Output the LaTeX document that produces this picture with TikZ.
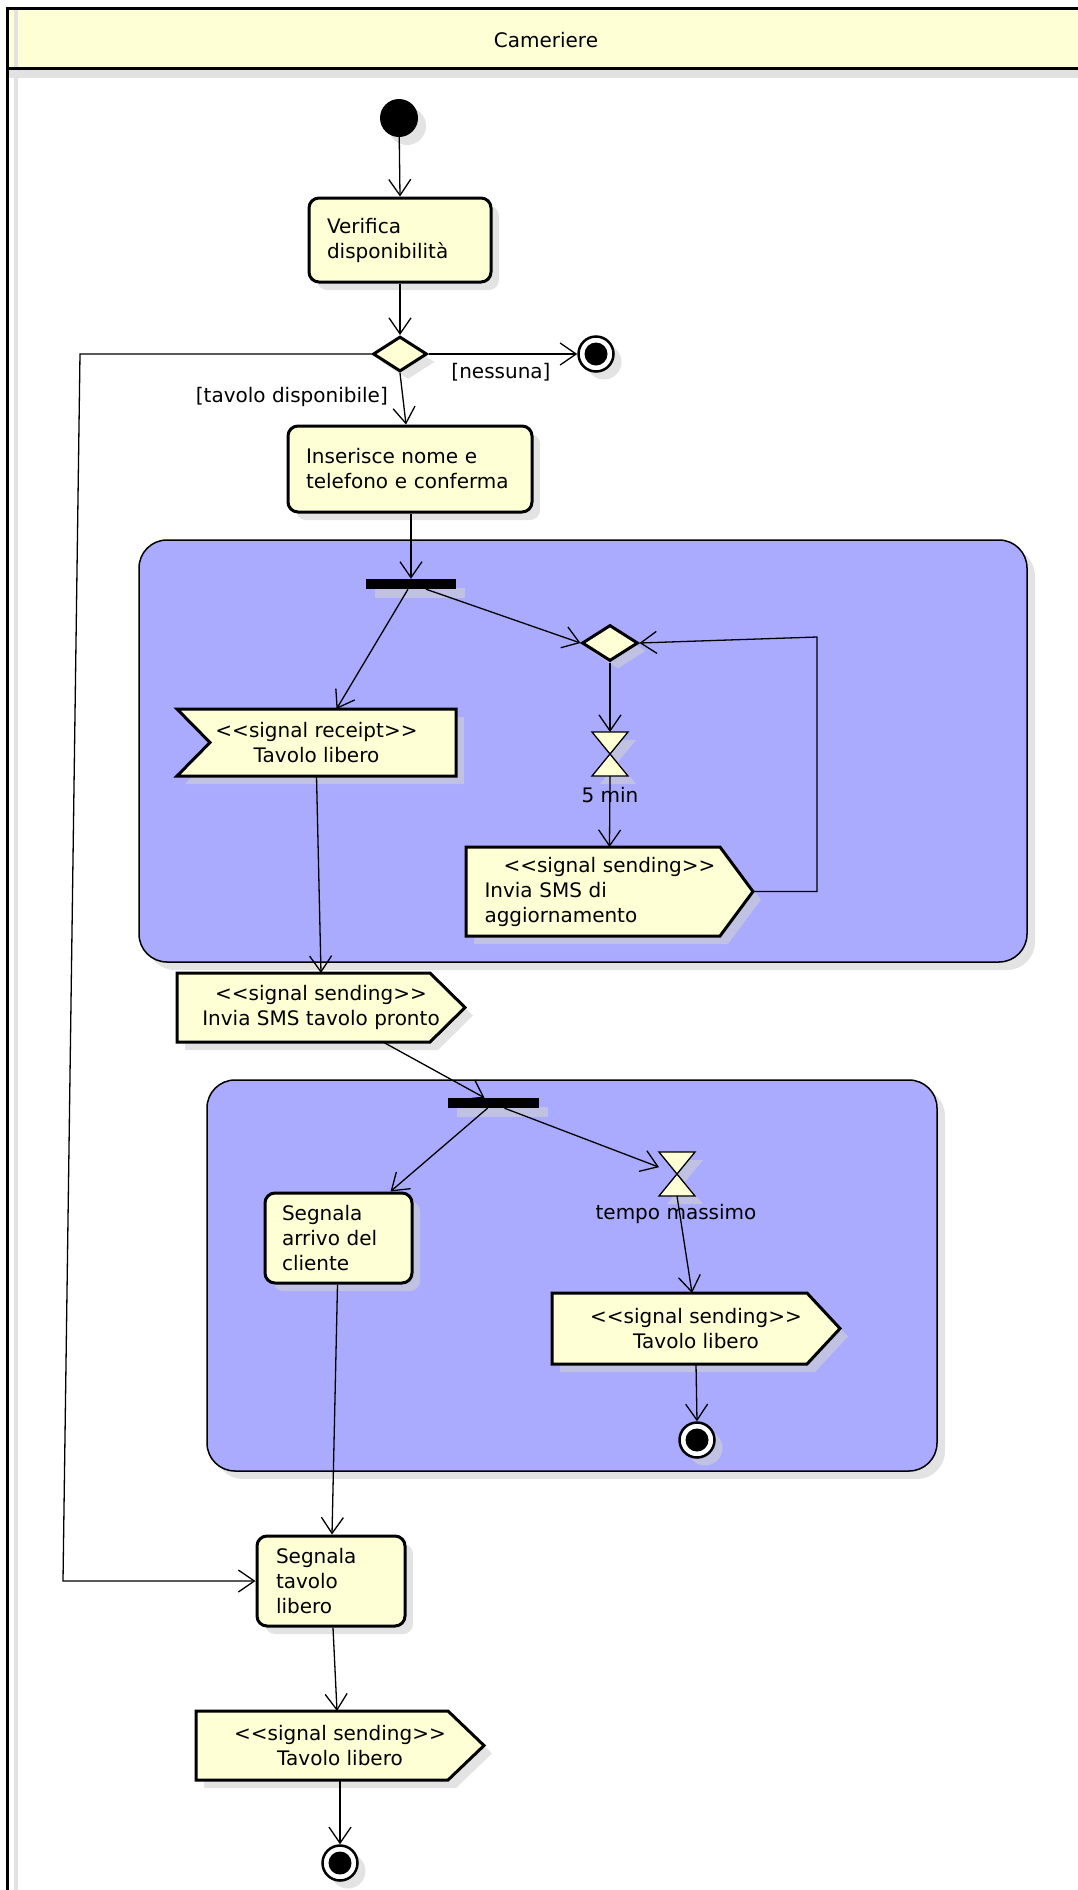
\documentclass[tikz,border=0pt]{standalone}
\usepackage{fontspec}
\newfontfamily\umlfont{DejaVu Sans}
\usetikzlibrary{arrows.meta,shapes.geometric,shadows}
\definecolor{umlyellow}{HTML}{FFFFD6}
\definecolor{umlblue}{HTML}{AAAAFF}
\definecolor{shadowgray}{rgb}{0.82,0.82,0.82}
\definecolor{laneshadow}{HTML}{E2E2E2}
\pgfdeclarelayer{back}
\pgfdeclarelayer{shad}
\pgfdeclarelayer{body}
\pgfsetlayers{back,shad,body,main}
\tikzset{
  txt/.style={font=\umlfont\fontsize{20}{25}\selectfont},
  shd/.style={fill=shadowgray,opacity=0.6},
  castshadow/.style={general shadow={shadow xshift=8pt,shadow yshift=-8pt,shd}},
  flow/.style={line width=1.3pt,-{Straight Barb[length=16pt,width=22pt]}},
  plainline/.style={line width=1.3pt},
  act/.style={txt,draw,fill=umlyellow,line width=3pt,rounded corners=10pt,align=left,inner ysep=0pt,castshadow},
  ghost/.style={txt,inner sep=0pt,outer sep=0pt},
  sigline/.style={draw,fill=umlyellow,line width=3pt,line join=miter},
  timerline/.style={draw,fill=umlyellow,line width=1.3pt},
  decision/.style={diamond,draw,fill=umlyellow,line width=3pt,inner sep=0pt,castshadow},
  forkbar/.style={rectangle,fill=black,inner sep=0pt,minimum width=90pt,minimum height=10pt,general shadow={shadow xshift=9pt,shadow yshift=-9pt,shd}},
  startnode/.style={circle,fill=black,inner sep=0pt,minimum size=38pt,castshadow},
  endnode/.style={circle,draw,line width=2.5pt,fill=white,inner sep=0pt,minimum size=35pt,castshadow,
    path picture={\fill[black] (path picture bounding box.center) circle (11.5pt);}},
  region/.style={draw,fill=umlblue,line width=1.5pt,rounded corners=28pt,inner sep=0pt,castshadow},
  guard/.style={txt,inner sep=0pt},
}
\newcommand\sendshape[2]{%
  \begin{pgfonlayer}{shad}
    \fill[shd,transform canvas={shift={(8pt,-8pt)}}] (#1.north west) -- ([xshift=-#2pt]#1.north east) -- (#1.east) -- ([xshift=-#2pt]#1.south east) -- (#1.south west) -- cycle;
  \end{pgfonlayer}
  \begin{pgfonlayer}{body}
    \path[sigline] (#1.north west) -- ([xshift=-#2pt]#1.north east) -- (#1.east) -- ([xshift=-#2pt]#1.south east) -- (#1.south west) -- cycle;
  \end{pgfonlayer}}
\newcommand\recvshape[2]{%
  \begin{pgfonlayer}{shad}
    \fill[shd,transform canvas={shift={(8pt,-8pt)}}] (#1.north west) -- (#1.north east) -- (#1.south east) -- (#1.south west) -- ([xshift=#2pt]#1.west) -- cycle;
  \end{pgfonlayer}
  \begin{pgfonlayer}{body}
    \path[sigline] (#1.north west) -- (#1.north east) -- (#1.south east) -- (#1.south west) -- ([xshift=#2pt]#1.west) -- cycle;
  \end{pgfonlayer}}
\newcommand\timershape[1]{%
  \begin{pgfonlayer}{shad}
    \fill[shd,transform canvas={shift={(8pt,-8pt)}}] (#1.north west) -- (#1.north east) -- (#1.south west) -- (#1.south east) -- cycle;
  \end{pgfonlayer}
  \begin{pgfonlayer}{body}
    \path[timerline] (#1.north west) -- (#1.north east) -- (#1.south west) -- (#1.south east) -- cycle;
  \end{pgfonlayer}}
\begin{document}
\begin{tikzpicture}[x=1pt,y=-1pt]
\useasboundingbox (0,0) rectangle (1078,1890);
% ---------- swimlane ----------
\begin{pgfonlayer}{back}
  \fill[laneshadow] (9,69) rectangle (1078,78);
  \fill[laneshadow] (14,69) rectangle (18,1890);
  \fill[umlyellow] (7,8) rectangle (1090,68);
  \fill[laneshadow] (14,10) rectangle (18,67);
  \draw[line width=3pt] (7,1895) -- (7,8) -- (1090,8);
  \draw[line width=3pt] (7,68) -- (1090,68);
  % regions
  \node[region,minimum width=888pt,minimum height=422pt] (reg1) at (583,751) {};
  \node[region,minimum width=730pt,minimum height=391pt] (reg2) at (572,1275.5) {};
\end{pgfonlayer}
\node[txt] (lane) at (546,40) {Cameriere};

% ---------- nodes ----------
\node[startnode] (init) at (399,118) {};
\node[act,inner xsep=18pt,text width=146pt,minimum height=84pt] (verifica) at (400,240) {Verifica\\disponibilità};
\node[decision,minimum width=54pt,minimum height=35pt] (d1) at (400,354) {};
\node[endnode] (fin1) at (596,354) {};
\node[act,inner xsep=18pt,text width=208pt,minimum height=86pt] (inserisce) at (410,469) {Inserisce nome e\\telefono e conferma};

\node[forkbar] (fork1) at (411,584) {};
\node[decision,minimum width=56pt,minimum height=36pt] (d2) at (610,643) {};
\node[ghost,minimum width=279pt,minimum height=67pt,align=center] (receipt) at (316.5,742.5) {<<signal receipt>>\\Tavolo libero};
\recvshape{receipt}{33}
\node[ghost,minimum width=36pt,minimum height=44pt] (timer1) at (610,754) {};
\timershape{timer1}
\node[ghost,minimum width=287pt,minimum height=89pt,text width=250pt,align=left] (send1) at (609.5,891.5) {\hspace*{19pt}<<signal sending>>\\Invia SMS di\\aggiornamento};
\sendshape{send1}{33}
\coordinate (lp1) at (817,891.5);
\coordinate (lp2) at (817,637);

\node[ghost,minimum width=288pt,minimum height=69pt,align=center] (send2) at (321,1007.5) {<<signal sending>>\\Invia SMS tavolo pronto};
\sendshape{send2}{35}

\node[forkbar,minimum width=91pt] (fork2) at (493.5,1103) {};
\node[act,inner xsep=17pt,text width=113pt,minimum height=90pt] (arrivo) at (338.5,1238) {Segnala\\arrivo del\\cliente};
\node[ghost,minimum width=36pt,minimum height=44pt] (timer2) at (677,1174) {};
\timershape{timer2}
\node[ghost,minimum width=288pt,minimum height=71pt,align=center] (send3) at (696,1328.5) {<<signal sending>>\\Tavolo libero};
\sendshape{send3}{33}
\node[endnode] (fin2) at (697,1440) {};

\node[act,inner xsep=19pt,text width=110pt,minimum height=90pt] (libero) at (331,1581) {Segnala\\tavolo\\libero};
\node[ghost,minimum width=288pt,minimum height=69pt,align=center] (send4) at (340,1745.5) {<<signal sending>>\\Tavolo libero};
\sendshape{send4}{36}
\node[endnode] (fin3) at (340,1863) {};

\coordinate (c1) at (80,354);
\coordinate (c2) at (63,1581);

% ---------- labels ----------
\node[guard] (gnessuna) at (501,372) {[nessuna]};
\node[guard,anchor=east] (gtavolo) at (388,397) {[tavolo disponibile]};
\node[guard] (g5min) at (610,795) {5 min};
\node[guard] (gtempo) at (676,1214) {tempo massimo};

% ---------- connectors ----------
\draw[flow] (init) -- (verifica.north);
\draw[flow] (verifica.south) -- (d1.north);
\draw[flow] (d1.east) -- (fin1.west);
\draw[flow] (d1.south) -- ([xshift=-4pt]inserisce.north);
\draw[flow] (d1.west) -- (c1) -- (c2) -- (libero.west);
\draw[flow] (fork1.north |- inserisce.south) -- (fork1.north);
\draw[flow] ([xshift=15pt]fork1.south) -- (d2.west);
\draw[flow] ([xshift=-3pt]fork1.south) -- ([xshift=20pt]receipt.north);
\draw[flow] (d2.south) -- (timer1.north);
\draw[flow] (timer1.south) -- (send1.north);
\draw[flow] (send1.east) -- (lp1) -- (lp2) -- (d2.east);
\draw[flow] (receipt.south) -- (send2.north);
\draw[flow] ([xshift=62pt]send2.south) -- ([xshift=-9pt]fork2.north);
\draw[flow] ([xshift=-6pt]fork2.south) -- ([xshift=52pt]arrivo.north);
\draw[flow] ([xshift=11pt]fork2.south) -- (timer2);
\draw[flow] (timer2.south) -- ([xshift=-4pt]send3.north);
\draw[flow] (send3.south) -- (fin2.north);
\draw[flow] ([xshift=-1pt]arrivo.south) -- ([xshift=1pt]libero.north);
\draw[flow] ([xshift=2pt]libero.south) -- ([xshift=-3pt]send4.north);
\draw[flow] (send4.south) -- (fin3.north);
\end{tikzpicture}
\end{document}
